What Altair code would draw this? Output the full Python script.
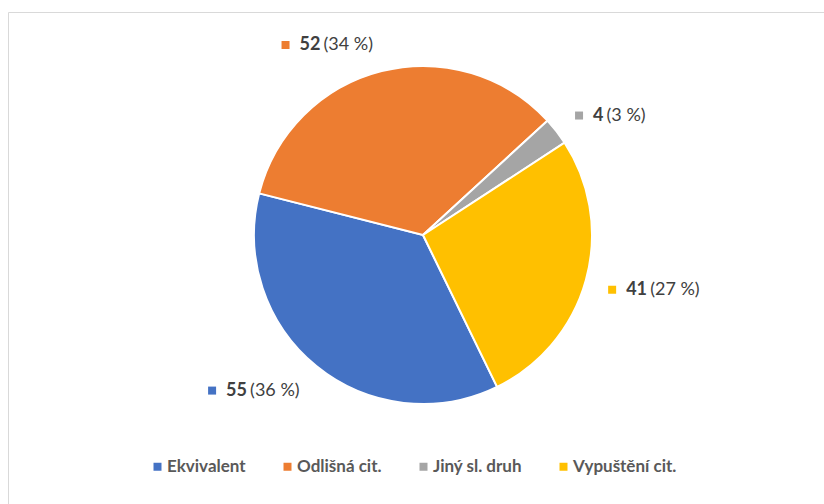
import math
import altair as alt
import pandas as pd

# ---- data ----
categories = ["Ekvivalent", "Odlišná cit.", "Jiný sl. druh", "Vypuštění cit."]
values = [55, 52, 4, 41]
percent_labels = ["(36 %)", "(34 %)", "(3 %)", "(27 %)"]
colors = ["#4472C4", "#ED7D31", "#A5A5A5", "#FFC000"]

df = pd.DataFrame({
    "cat": categories,
    "value": values,
    "pct": percent_labels,
    "idx": list(range(len(categories))),
})

# ---- layout / style ----
W, H = 824, 504
CX, CY = 423, 235
RADIUS = 169
START = math.radians(154)
LR = 190
FONT = "Lato"
FS = 18
DIGIT_W = 10.5
PCT_CHAR_W = 9

color_scale = alt.Scale(domain=categories, range=colors)
theta_scale = alt.Scale(range=[START, START + 2 * math.pi])

base = alt.Chart(df)

pie = base.mark_arc(radius=RADIUS, stroke="white", strokeWidth=2).encode(
    theta=alt.Theta("value:Q", stack=True, scale=theta_scale),
    color=alt.Color(
        "cat:N",
        scale=color_scale,
        sort=categories,
        legend=alt.Legend(
            title=None,
            orient="none",
            direction="horizontal",
            legendX=149,
            legendY=458,
            symbolType="square",
            symbolSize=64,
            symbolStrokeWidth=0,
            labelFont=FONT,
            labelFontSize=17,
            labelFontWeight="bold",
            labelColor="#595959",
            labelOffset=1,
            columnPadding=33,
            padding=0,
            labelLimit=300,
        ),
    ),
    order=alt.Order("idx:Q"),
    x=alt.value(CX),
    y=alt.value(CY),
)

lab = base.transform_window(
    cum="sum(value)", sort=[alt.SortField("idx")], frame=[None, 0]
).transform_joinaggregate(total="sum(value)").transform_calculate(
    ang=f"{START} + 2*PI*(datum.cum - datum.value/2)/datum.total",
    s="sin(datum.ang)",
    c="cos(datum.ang)",
    ax=f"{CX} + {LR}*datum.s",
    ly=f"{CY} - {LR}*datum.c - 8*datum.c + 2",
    numw=f"{DIGIT_W}*length(toString(datum.value))",
    pctw=f"{PCT_CHAR_W}*length(datum.pct)",
    bw="20 + datum.numw + 2 + datum.pctw",
    bx="datum.s >= 0 ? datum.ax : datum.ax - datum.bw",
    mx="datum.bx + 6",
    nx="datum.bx + 20",
    px="datum.bx + 20 + datum.numw + 3",
)

markers = lab.mark_square(size=64, opacity=1).encode(
    x=alt.X("mx:Q", scale=None, axis=None),
    y=alt.Y("ly:Q", scale=None, axis=None),
    fill=alt.Fill("cat:N", scale=color_scale, legend=None),
)

nums = lab.mark_text(
    align="left", baseline="middle", font=FONT, fontSize=FS,
    fontWeight="bold", color="#404040",
).encode(
    x=alt.X("nx:Q", scale=None, axis=None),
    y=alt.Y("ly:Q", scale=None, axis=None),
    text=alt.Text("value:Q"),
)

pcts = lab.mark_text(
    align="left", baseline="middle", font=FONT, fontSize=FS,
    fontWeight="normal", color="#404040",
).encode(
    x=alt.X("px:Q", scale=None, axis=None),
    y=alt.Y("ly:Q", scale=None, axis=None),
    text=alt.Text("pct:N"),
)

border = alt.Chart(pd.DataFrame({"a": [0]})).mark_rect(
    fillOpacity=0, stroke="#d9d9d9", strokeWidth=1
).encode(
    x=alt.value(8.5), y=alt.value(12.5), x2=alt.value(860), y2=alt.value(540)
)

chart = alt.layer(border, pie, markers, nums, pcts).resolve_scale(
    color="independent", fill="independent"
).properties(
    width=W, height=H, autosize="none", padding=0, background="white"
).configure_view(stroke=None)

chart.save("out.html", embed_options={"renderer": "svg", "actions": False})
